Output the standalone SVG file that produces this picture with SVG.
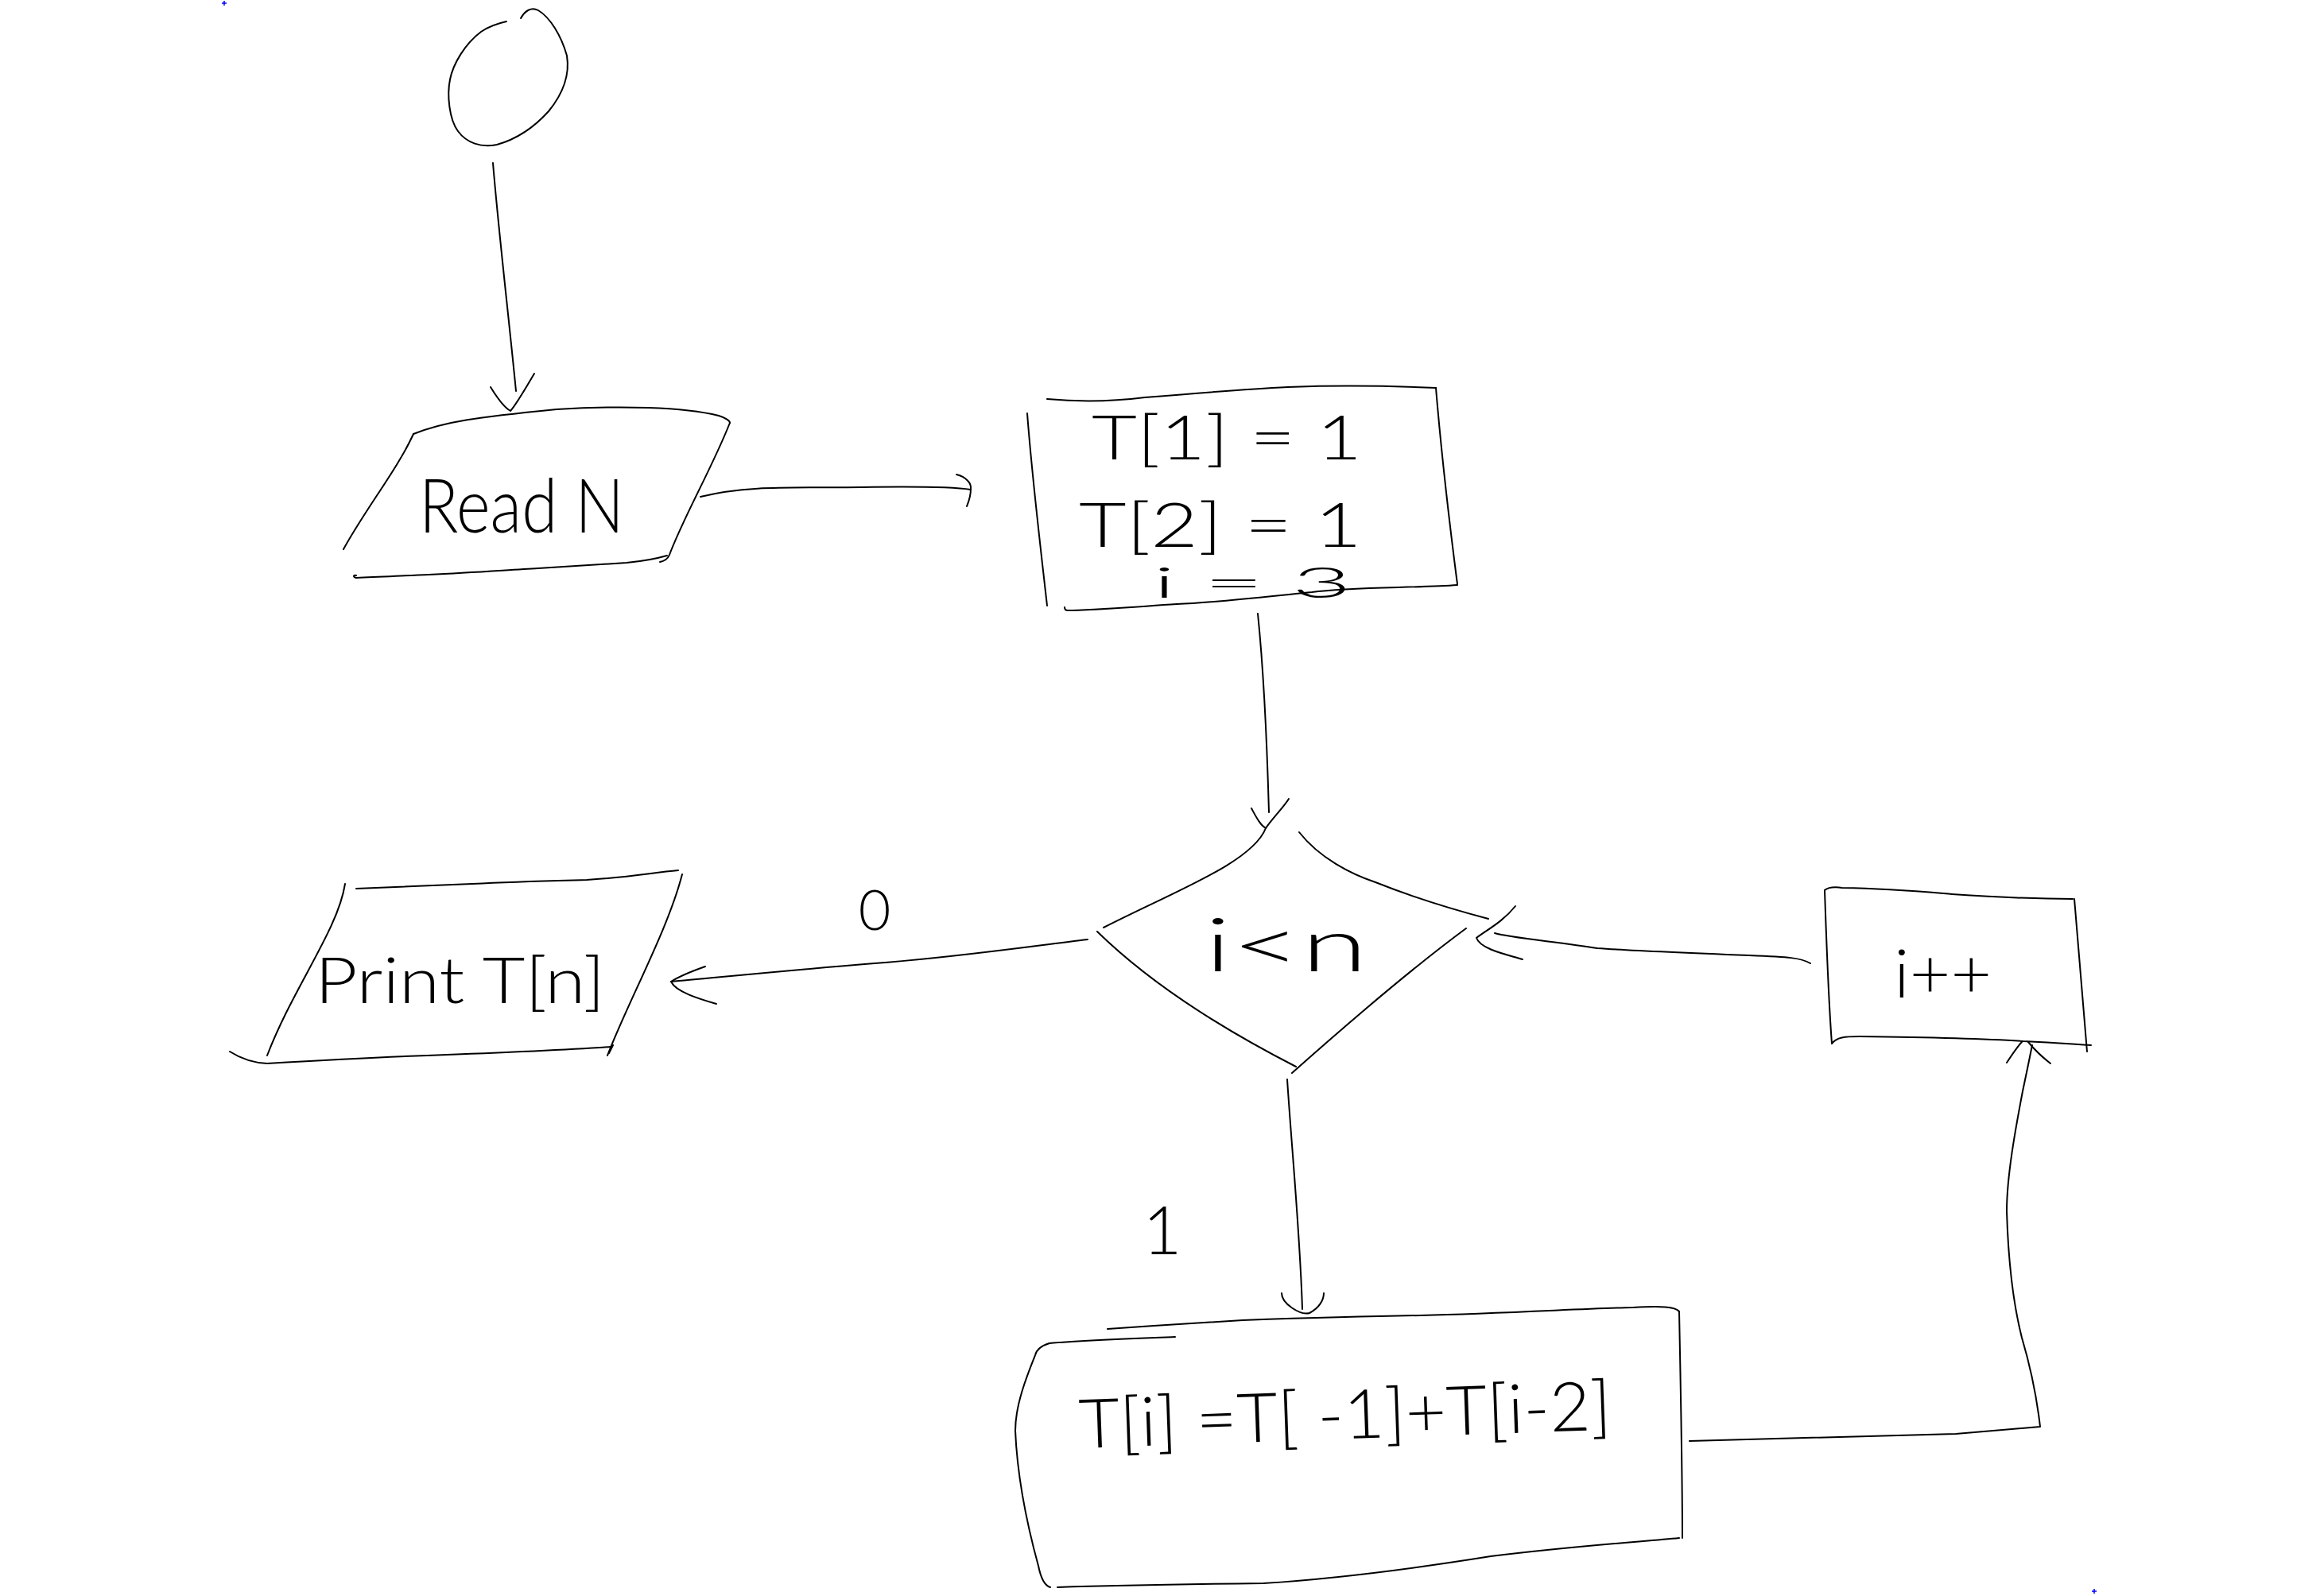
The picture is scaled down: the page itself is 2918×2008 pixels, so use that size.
<svg xmlns="http://www.w3.org/2000/svg" width="2918" height="2008" viewBox="0 0 2918 2008">
<style>
.s{fill:none;stroke:#000;stroke-width:2;stroke-linecap:round;stroke-linejoin:round}
.t{font-family:Lato,"Liberation Sans",sans-serif;font-weight:300;fill:#000}
.m{fill:none;stroke:#00f;stroke-width:1.5}
</style>
<rect width="2918" height="2008" fill="#fff"/>
<g id="marks">
<path class="m" d="M279,4 H285 M282,1 V7"/>
<path class="m" d="M2631,2002 H2637 M2634,1999 V2005"/>
</g>
<g id="start">
<path class="s" d="M655,23 C660,14 668,8 677,13 C692,22 706,45 713,70 C717,95 708,118 690,140 C672,160 650,175 625,182 C605,186 587,180 576,165 C565,150 562,120 566,100 C570,80 585,55 605,40 C615,33 628,29 637,27"/>
</g>
<g id="readN">
<path class="s" d="M520,546 C560,530 600,525 700,515 C780,510 860,512 904,523 C914,526 918,530 918,532"/>
<path class="s" d="M918,532 C895,590 860,650 842,698 C840,703 835,706 830,707"/>
<path class="s" d="M520,546 C500,590 460,640 432,691"/>
<path class="s" d="M448,727 C444,726 444,723 448,724 M448,727 C480,726 510,724 539,723 C600,720 640,717 677,715 C730,712 760,710 788,708 C810,706 825,703 839,699"/>
<text class="t" x="527" y="670" font-size="95" textLength="258" lengthAdjust="spacingAndGlyphs">Read N</text>
</g>
<g id="init">
<path class="s" d="M1317,502 C1360,506 1400,505 1440,500 C1500,495 1560,490 1620,487 C1700,484 1760,486 1806,488"/>
<path class="s" d="M1806,488 C1812,560 1822,650 1833,735"/>
<path class="s" d="M1833,736 C1780,740 1700,738 1650,745 C1580,752 1530,758 1480,760 C1420,764 1370,768 1343,768 C1340,768 1339,766 1339,764"/>
<path class="s" d="M1292,520 C1298,600 1310,700 1317,762"/>
<text class="t" x="1373" y="578" font-size="76" textLength="340" lengthAdjust="spacingAndGlyphs">T[1] = 1</text>
<text class="t" x="1357" y="688" font-size="76" textLength="356" lengthAdjust="spacingAndGlyphs">T[2] = 1</text>
<text class="t" x="1450" y="752" font-size="54" textLength="250" lengthAdjust="spacingAndGlyphs">i = 3</text>
</g>
<g id="cond">
<path class="s" d="M1592,1042 C1575,1085 1480,1120 1388,1167"/>
<path class="s" d="M1380,1172 Q1470,1260 1630,1342"/>
<path class="s" d="M1634,1047 C1660,1080 1700,1100 1730,1110 C1780,1130 1830,1145 1872,1156"/>
<path class="s" d="M1844,1168 Q1760,1230 1625,1350"/>
<text class="t" x="1515" y="1222" font-size="92" textLength="205" lengthAdjust="spacingAndGlyphs">i&lt;n</text>
</g>
<g id="inc">
<path class="s" d="M2295,1120 C2300,1116 2310,1116 2317,1117 C2380,1118 2420,1122 2455,1125 C2530,1130 2580,1131 2607,1131"/>
<path class="s" d="M2609,1131 C2615,1200 2620,1270 2625,1323"/>
<path class="s" d="M2304,1313 C2310,1305 2320,1304 2339,1304 C2420,1305 2500,1307 2545,1310 C2590,1312 2610,1314 2630,1315"/>
<path class="s" d="M2295,1120 C2297,1180 2300,1260 2304,1313"/>
<text class="t" x="2382" y="1255" font-size="85" textLength="123" lengthAdjust="spacingAndGlyphs">i++</text>
</g>
<g id="print">
<path class="s" d="M448,1118 C500,1116 550,1114 594,1112 C650,1109 700,1108 738,1107 C790,1104 820,1098 853,1095"/>
<path class="s" d="M434,1112 C425,1170 370,1240 336,1328"/>
<path class="s" d="M858,1100 C840,1170 790,1260 764,1328"/>
<path class="s" d="M289,1323 C300,1330 315,1337 336,1338 C420,1333 480,1330 537,1328 C620,1325 700,1322 769,1317 M771,1315 L766,1325"/>
<text class="t" x="396" y="1262" font-size="80" textLength="365" lengthAdjust="spacingAndGlyphs">Print T[n]</text>
</g>
<g id="calc">
<path class="s" d="M1393,1672 C1450,1668 1500,1665 1563,1661 C1650,1658 1720,1656 1786,1655 C1900,1652 2000,1646 2054,1645 C2090,1643 2107,1644 2112,1650"/>
<path class="s" d="M1478,1682 C1420,1684 1360,1686 1320,1690 C1310,1693 1304,1697 1302,1705 C1292,1730 1277,1767 1277,1800 C1280,1870 1295,1930 1306,1970 C1309,1985 1314,1995 1321,1997"/>
<path class="s" d="M1330,1997 C1420,1994 1500,1993 1589,1992 C1700,1985 1800,1970 1875,1958 C1980,1945 2060,1940 2112,1935"/>
<path class="s" d="M2112,1650 C2114,1750 2116,1850 2116,1935"/>
<text class="t" x="1358" y="1822" font-size="86" textLength="670" lengthAdjust="spacingAndGlyphs" transform="rotate(-2 1358 1822)">T[i] =T[ -1]+T[i-2]</text>
</g>
<g id="connectors">
<path class="s" d="M620,205 C627,290 640,400 649,492"/>
<path class="s" d="M617,487 C625,500 633,512 642,517 C650,508 662,487 672,470"/>
<path class="s" d="M881,625 C940,610 1000,614 1084,613 C1150,612 1195,612 1221,616"/>
<path class="s" d="M1203,597 C1215,600 1222,608 1221,615 C1221,625 1218,632 1216,637"/>
<path class="s" d="M1582,772 C1590,850 1594,950 1596,1022"/>
<path class="s" d="M1574,1017 C1580,1028 1585,1038 1592,1042 C1600,1030 1615,1015 1621,1005"/>
<path class="s" d="M2277,1212 C2265,1205 2250,1204 2200,1202 C2100,1198 2050,1196 2009,1193 C1960,1185 1900,1180 1880,1174"/>
<path class="s" d="M1906,1140 C1890,1160 1870,1170 1857,1180 C1862,1195 1900,1202 1915,1207"/>
<path class="s" d="M1368,1182 C1300,1190 1200,1205 1100,1212 C1000,1220 900,1230 844,1235"/>
<path class="s" d="M887,1216 C870,1222 855,1228 844,1235 C850,1248 880,1257 901,1263"/>
<path class="s" d="M1619,1358 C1625,1450 1635,1550 1638,1647"/>
<path class="s" d="M1612,1627 C1612,1640 1635,1655 1647,1652 C1660,1645 1665,1635 1665,1627"/>
<path class="s" d="M2125,1813 L2460,1804 L2566,1795 C2562,1760 2556,1727 2543,1683 C2532,1640 2526,1590 2524,1524 C2524,1480 2535,1420 2544,1373 C2550,1345 2554,1325 2556,1315"/>
<path class="s" d="M2524,1337 C2532,1325 2538,1316 2543,1311 M2551,1311 C2560,1322 2570,1331 2579,1338"/>
<text class="t" x="1100" y="1170" font-size="70" text-anchor="middle">0</text>
<text class="t" x="1462" y="1578" font-size="85" text-anchor="middle">1</text>
</g>
</svg>
